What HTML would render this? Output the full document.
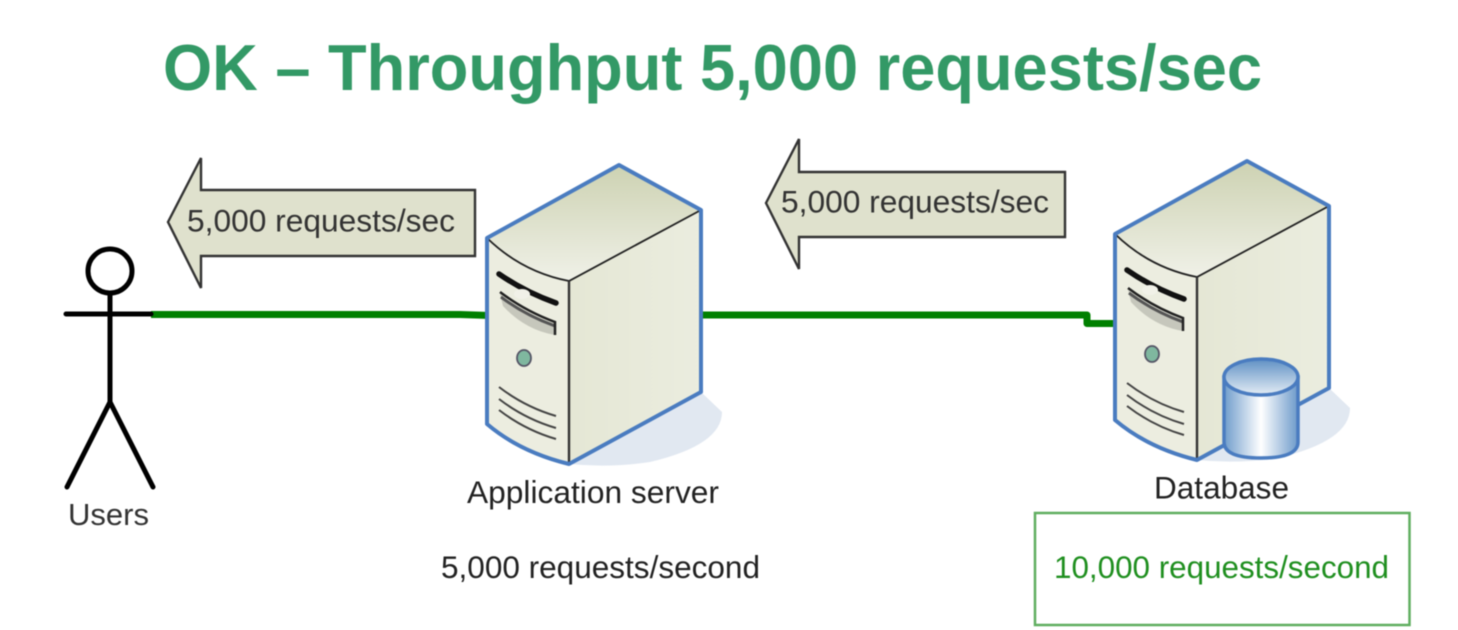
<!DOCTYPE html>
<html>
<head>
<meta charset="utf-8">
<style>
html,body{margin:0;padding:0;background:#fff;width:1458px;height:630px;overflow:hidden}
svg{display:block;filter:blur(0.6px)}
text{font-family:"Liberation Sans",sans-serif}
</style>
</head>
<body>
<svg width="1458" height="630" viewBox="0 0 1458 630" xmlns="http://www.w3.org/2000/svg">
<defs>
<linearGradient id="top" x1="0" y1="0" x2="0" y2="1">
<stop offset="0" stop-color="#cdd2b2"/><stop offset="1" stop-color="#f0f1e8"/>
</linearGradient>
<linearGradient id="side" x1="0" y1="0" x2="1" y2="0">
<stop offset="0" stop-color="#e5e7d5"/><stop offset="1" stop-color="#ebeddf"/>
</linearGradient>
<linearGradient id="cylside" x1="0" y1="0" x2="1" y2="0">
<stop offset="0" stop-color="#6f9ccb"/><stop offset=".5" stop-color="#ffffff"/><stop offset="1" stop-color="#6d9aca"/>
</linearGradient>
<linearGradient id="cyltop" x1="0" y1="0" x2="0" y2="1">
<stop offset="0" stop-color="#5f90c4"/><stop offset="1" stop-color="#e4edf5"/>
</linearGradient>
<g id="server">
<path d="M569 464 L701 392 L722 412 Q722 445 650 462 Q610 468 569 464Z" fill="#e1e8f1"/>
<path d="M487 238 Q522 272 569 281 L569 464 Q520 452 487 424Z" fill="#ecedE0"/>
<path d="M569 281 L701 210 L701 392 L569 464Z" fill="url(#side)"/>
<path d="M487 238 L619 165 L701 210 L569 281 Q522 272 487 238Z" fill="url(#top)"/>
<path d="M487 238 Q522 272 569 281 L701 210" fill="none" stroke="#222" stroke-width="1.8"/>
<path d="M569 281 L569 464" stroke="#333" stroke-width="2.4" fill="none"/>
<path d="M487 238 L619 165 L701 210 L701 392 L569 464 Q520 452 487 424Z" fill="none" stroke="#4a7cc0" stroke-width="4" stroke-linejoin="round"/>
<path d="M499 274 Q525 292 556 303" fill="none" stroke="#111" stroke-width="5.5" stroke-linecap="round"/>
<ellipse cx="522" cy="294" rx="8" ry="5" fill="#f1f1e8"/>
<path d="M500 294 Q525 316 555 323 L555 335 Q525 330 503 306Z" fill="#c6c7bc"/>
<path d="M501 297 Q525 315 555 326" fill="none" stroke="#555" stroke-width="3"/>
<path d="M500 292 Q525 311 555 322 L555 335" fill="none" stroke="#222" stroke-width="2.5"/>
<ellipse cx="524" cy="358" rx="7" ry="8" fill="#7fb79f" stroke="#556" stroke-width="1.8"/>
<path d="M499 387 Q525 407 556 416 M499 399 Q525 419 556 428 M499 410 Q525 430 556 439" fill="none" stroke="#444" stroke-width="2"/>
</g>
</defs>

<text x="163" y="90" font-size="65" font-weight="bold" fill="#339966" textLength="1099" lengthAdjust="spacingAndGlyphs">OK – Throughput 5,000 requests/sec</text>

<!-- connectors -->
<path d="M151 314.5 L460 314.5 L490 315.5" stroke="#008000" stroke-width="7" fill="none"/>
<path d="M700 315 L1087 315 L1087 323.5 L1116 323.5" stroke="#008000" stroke-width="7" fill="none" stroke-linejoin="round"/>

<!-- stick figure -->
<circle cx="110" cy="271" r="22" fill="none" stroke="#000" stroke-width="5"/>
<path d="M110 293 L110 402 M66 314 L151 314 M67 487 L110 402 L153 487" fill="none" stroke="#000" stroke-width="5" stroke-linecap="round"/>

<!-- arrows -->
<path d="M168 222 L201 158 L201 190 L475 190 L475 256 L201 256 L201 288Z" fill="#dfe1cd" stroke="#333" stroke-width="2.4"/>
<path d="M766 203 L799 139 L799 172 L1065 172 L1065 237 L799 237 L799 269Z" fill="#dfe1cd" stroke="#333" stroke-width="2.4"/>
<text x="187" y="231.5" font-size="31.7" fill="#333" textLength="268" lengthAdjust="spacingAndGlyphs">5,000 requests/sec</text>
<text x="781" y="212.5" font-size="31.7" fill="#333" textLength="268" lengthAdjust="spacingAndGlyphs">5,000 requests/sec</text>

<!-- servers -->
<use href="#server"/>
<use href="#server" transform="translate(628,-4)"/>

<!-- db cylinder -->
<path d="M1224 377 L1224 442 Q1224 458 1261 458 Q1298 458 1298 442 L1298 377Z" fill="url(#cylside)" stroke="#4a7cc0" stroke-width="3.5"/>
<ellipse cx="1261" cy="377" rx="37" ry="18" fill="url(#cyltop)" stroke="#4a7cc0" stroke-width="3.5"/>

<!-- labels -->
<text x="68" y="525" font-size="31" fill="#333" textLength="81" lengthAdjust="spacingAndGlyphs">Users</text>
<text x="467" y="503" font-size="31.5" fill="#222" textLength="252" lengthAdjust="spacingAndGlyphs">Application server</text>
<text x="441" y="578" font-size="31.5" fill="#222" textLength="319" lengthAdjust="spacingAndGlyphs">5,000 requests/second</text>
<text x="1154" y="498.5" font-size="31.5" fill="#222" textLength="135" lengthAdjust="spacingAndGlyphs">Database</text>

<rect x="1035" y="513" width="374.5" height="112" fill="#fff" stroke="#5fae5f" stroke-width="2.5"/>
<text x="1054" y="578" font-size="31.5" fill="#1f8f1f" textLength="335" lengthAdjust="spacingAndGlyphs">10,000 requests/second</text>
</svg>
</body>
</html>
